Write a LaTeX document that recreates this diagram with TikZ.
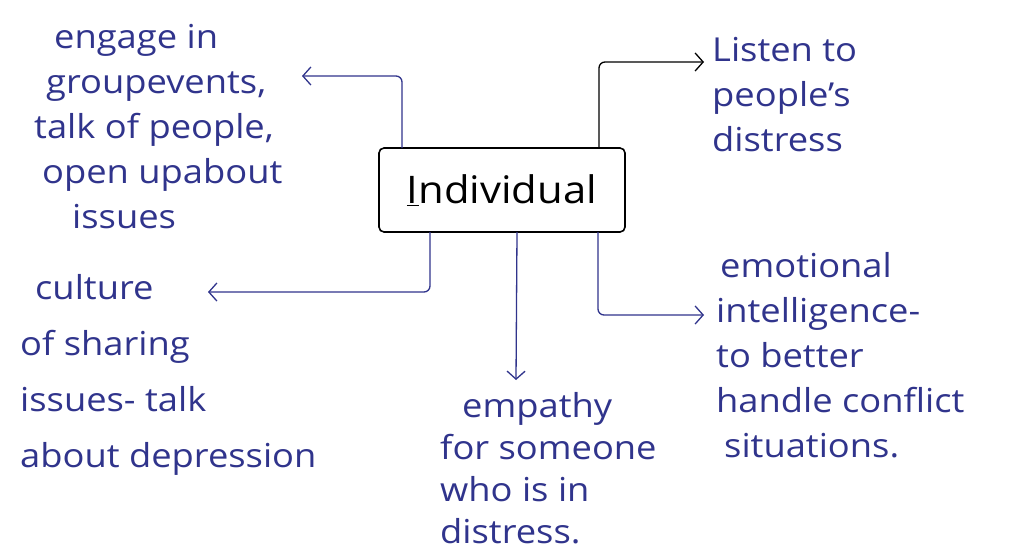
\documentclass[tikz,border=0pt]{standalone}
\usepackage{fontspec}
\setmainfont[FakeStretch=1.1]{Open Sans}
\usetikzlibrary{arrows.meta}
\definecolor{ink}{RGB}{48,52,140}
\begin{document}
\begin{tikzpicture}[x=1pt,y=-1pt,
  hand/.style={text=ink, align=left, anchor=west, inner sep=0pt},
  con/.style={draw=ink, line width=1.3pt, rounded corners=6pt, -{Straight Barb[length=8pt,width=18pt]}},
  conk/.style={con, draw=black}
]
\useasboundingbox[fill=white] (0,0) rectangle (1024,554);

\node[draw, line width=1.6pt, rounded corners=5pt, minimum width=246pt, minimum height=84pt,
      font=\fontsize{38}{42}\selectfont] (ind) at (502,190) {\underline{I}ndividual};

\node[hand, font=\fontsize{33}{45}\selectfont] (tl) at (34,127)
  {\hspace*{20pt}engage in\\ \hspace*{12pt}groupevents,\\ talk of people,\\ \hspace*{8pt}open upabout\\ \hspace*{38pt}issues};

\node[hand, font=\fontsize{33}{45}\selectfont] (tr) at (712,95)
  {Listen to\\ people's\\ distress};

\node[hand, font=\fontsize{33}{45}\selectfont] (rt) at (716,355)
  {\hspace*{4pt}emotional\\ intelligence-\\ to better\\ handle conflict\\ \hspace*{8pt}situations.};

\node[hand, font=\fontsize{33}{56}\selectfont] (lb) at (20,375)
  {\hspace*{15pt}culture\\ of sharing\\ issues- talk\\ about depression};

\node[hand, font=\fontsize{33}{42}\selectfont] (bm) at (440,468)
  {\hspace*{22pt}empathy\\ for someone\\ who is in\\ distress.};

\coordinate (s1) at (402,148);
\coordinate (e1) at (302,76);
\coordinate (s2) at (599,148);
\coordinate (e2) at (704,62);
\coordinate (s3) at (430,232);
\coordinate (e3) at (208,292);
\coordinate (s4) at (517,232);
\coordinate (e4) at (516,380);
\coordinate (s5) at (598,232);
\coordinate (e5) at (704,315);

\draw[con] (s1) |- (e1);
\draw[conk] (s2) |- (e2);
\draw[con] (s3) |- (e3);
\draw[con] (s4) -- (e4);
\draw[con] (s5) |- (e5);
\end{tikzpicture}
\end{document}
